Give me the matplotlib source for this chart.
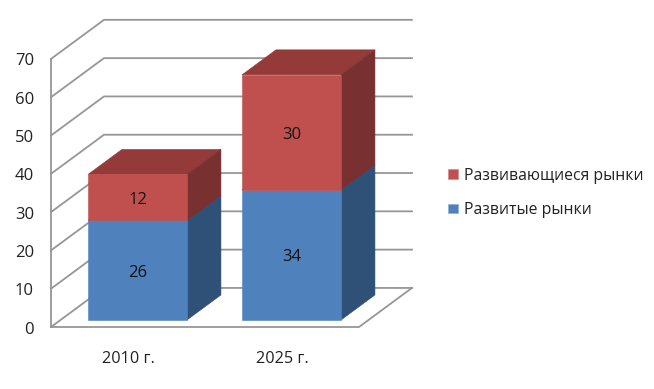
# stacked 3d-look columns: developed vs emerging markets

import matplotlib
matplotlib.use('agg')
from matplotlib import pyplot as plt
from matplotlib.patches import Polygon, Patch

categories = ['2010 г.', '2025 г.']
developed = [26, 34]
emerging = [12, 30]
y_ticks = [0, 10, 20, 30, 40, 50, 60, 70]
series_names = ['Развитые рынки', 'Развивающиеся рынки']

plt.rcParams['font.family'] = ['Open Sans', 'DejaVu Sans']

GRID = '#969696'
BLUE = ('#4f81bd', '#3a5f8b', '#2f5178')  # front, top, side
RED = ('#c0504d', '#943a38', '#783130')

# oblique projection: depth 0..1 shifts a point right and up
KX = 0.344
KY = 10.2
BAR_W = 0.643
D0, D1 = 0.18, 0.82
TEXT_DROP = 2.5 / 3.83  # text sat a bit high


def proj(x, v, d):
    return (x + d * KX, v + d * KY)


fig = plt.figure(figsize=(6.54, 3.89), dpi=100)
ax = fig.add_axes([0, 0, 1, 1])
ax.set_xlim(-51 / 154, 603 / 154)
ax.set_ylim(-62 / 3.83, 327 / 3.83)
ax.axis('off')

# walls
for t in y_ticks:
    xs, ys = zip(proj(0, t, 0), proj(0, t, 1), proj(2, t, 1))
    ax.plot(xs, ys, color=GRID, lw=1.3, zorder=1)
    ax.text(-17 / 154, t - TEXT_DROP, str(t), ha='right', va='center', fontsize=12, color='#222222')
ax.plot([0, 0], [0, 70], color=GRID, lw=1.3, zorder=1)
xs, ys = zip(proj(0, 0, 0), proj(2, 0, 0), proj(2, 0, 1))
ax.plot(xs, ys, color=GRID, lw=1.3, zorder=1)


def draw_box(x, v0, v1, colors):
    left = x - BAR_W / 2
    right = x + BAR_W / 2
    front = [proj(left, v0, D0), proj(right, v0, D0), proj(right, v1, D0), proj(left, v1, D0)]
    top = [proj(left, v1, D0), proj(right, v1, D0), proj(right, v1, D1), proj(left, v1, D1)]
    side = [proj(right, v0, D0), proj(right, v0, D1), proj(right, v1, D1), proj(right, v1, D0)]
    for pts, c in ((top, colors[1]), (side, colors[2]), (front, colors[0])):
        ax.add_patch(Polygon(pts, closed=True, facecolor=c, edgecolor=c, lw=0.4, zorder=2))


for i, name in enumerate(categories):
    x = i + 0.5
    draw_box(x, 0, developed[i], BLUE)
    draw_box(x, developed[i], developed[i] + emerging[i], RED)
    lx = proj(x, 0, D0)[0]
    ly = proj(x, 0, D0)[1] - TEXT_DROP
    ax.text(lx, ly + developed[i] / 2, str(developed[i]), ha='center', va='center',
            fontsize=12, color='#111111', zorder=3)
    ax.text(lx, ly + developed[i] + emerging[i] / 2, str(emerging[i]), ha='center', va='center',
            fontsize=12, color='#111111', zorder=3)
    ax.text(x, -32 / 3.83, name, ha='center', va='center', fontsize=11.7, color='#222222')

handles = [Patch(facecolor=RED[0], edgecolor='#d08a88', lw=0.5),
           Patch(facecolor=BLUE[0], edgecolor='#8fb0d8', lw=0.5)]
ax.legend(handles, [series_names[1], series_names[0]], loc='center left',
          bbox_to_anchor=(434 / 654, 1 - 193 / 389), frameon=False, fontsize=11.3,
          handlelength=0.6, handleheight=0.6, handletextpad=0.4, labelspacing=1.15,
          labelcolor='#222222')

fig.savefig('out.png', dpi=100)
